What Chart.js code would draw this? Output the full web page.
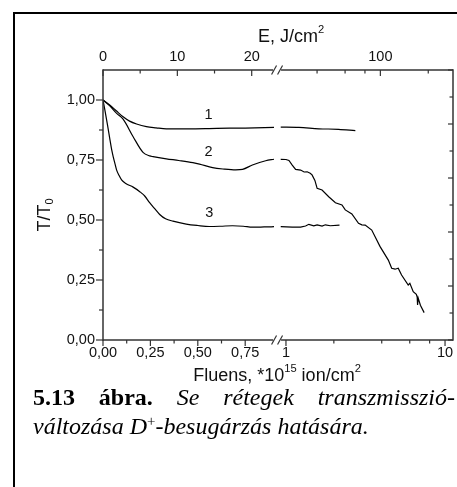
<!DOCTYPE html>
<html>
<head>
<meta charset="utf-8">
<script src="https://cdn.jsdelivr.net/npm/chart.js@4.4.1/dist/chart.umd.min.js"></script>
<style>
    html, body { margin: 0; padding: 0; background: #fff; }
    #wrap { position: relative; width: 457px; height: 487px; overflow: hidden; }
    #frame { position: absolute; left: 13px; top: 12px; width: 460px; height: 520px; border: 2px solid #000; box-sizing: border-box; }
    #chart { position: absolute; left: 0; top: 0; }
    #caption { position: absolute; left: 33px; top: 383px; width: 422px; font-family: "Liberation Serif", "Times New Roman", serif; font-size: 24px; line-height: 29px; color: #000; }
    #caption .l1 { text-align: justify; text-align-last: justify; white-space: nowrap; }
    #caption sup { font-size: 0.62em; line-height: 0; vertical-align: 0.55em; font-style: normal; }
</style>
</head>
<body>
<div id="wrap">
    <div id="frame"></div>
    <canvas id="chart" width="457" height="487"></canvas>
    <div id="caption">
        <div class="l1"><b>5.13 ábra.</b> <i>Se rétegek transzmisszió-</i></div>
        <div class="l2"><i>változása D<sup>+</sup>-besugárzás hatására.</i></div>
    </div>
</div>
<script>
// --- adatok: fluens (*10^15 ion/cm2) és T/T0 ---
const c1LeftF = [0, 0.037, 0.07, 0.106, 0.14, 0.177, 0.229, 0.28, 0.334, 0.45, 0.6, 0.75, 0.902];
const c1LeftT = [1.0, 0.978, 0.955, 0.930, 0.912, 0.900, 0.889, 0.884, 0.880, 0.880, 0.882, 0.883, 0.886];
const c1RightF = [0.927, 1.206, 1.61, 2.14, 2.73];
const c1RightT = [0.887, 0.886, 0.880, 0.878, 0.872];

const c2LeftF = [0, 0.037, 0.072, 0.106, 0.159, 0.211, 0.246, 0.264, 0.334, 0.40, 0.474, 0.509, 0.578, 0.64, 0.70, 0.736, 0.788, 0.858, 0.902];
const c2LeftT = [1.0, 0.975, 0.944, 0.920, 0.847, 0.782, 0.767, 0.764, 0.755, 0.748, 0.739, 0.733, 0.718, 0.712, 0.709, 0.711, 0.729, 0.747, 0.753];
const c2RightF = [0.927, 1.0, 1.044, 1.095, 1.15, 1.236, 1.30, 1.359, 1.42, 1.459, 1.52, 1.57, 1.686, 1.857, 2.046, 2.249, 2.36, 2.596, 2.858, 3.0, 3.147, 3.461, 3.906, 4.40, 4.62, 4.85, 5.08, 5.33, 5.87, 6.01, 6.31, 6.60, 6.68, 6.72, 6.78, 7.0, 7.39];
const c2RightT = [0.753, 0.752, 0.748, 0.729, 0.711, 0.708, 0.700, 0.701, 0.695, 0.688, 0.665, 0.632, 0.625, 0.597, 0.572, 0.563, 0.542, 0.525, 0.486, 0.480, 0.479, 0.458, 0.389, 0.333, 0.299, 0.295, 0.299, 0.271, 0.229, 0.236, 0.201, 0.190, 0.179, 0.146, 0.175, 0.145, 0.114];

const c3LeftF = [0, 0.010, 0.025, 0.037, 0.046, 0.055, 0.063, 0.072, 0.085, 0.098, 0.12, 0.159, 0.194, 0.22, 0.246, 0.275, 0.299, 0.33, 0.369, 0.439, 0.50, 0.561, 0.62, 0.683, 0.74, 0.788, 0.85, 0.902];
const c3LeftT = [1.0, 0.958, 0.89, 0.833, 0.792, 0.760, 0.735, 0.708, 0.685, 0.667, 0.652, 0.637, 0.618, 0.600, 0.572, 0.545, 0.523, 0.505, 0.495, 0.483, 0.477, 0.473, 0.474, 0.476, 0.474, 0.470, 0.471, 0.472];
const c3RightF = [0.927, 1.095, 1.236, 1.328, 1.393, 1.496, 1.57, 1.686, 1.77, 1.90, 2.17];
const c3RightT = [0.472, 0.470, 0.470, 0.475, 0.482, 0.476, 0.480, 0.475, 0.480, 0.476, 0.479];

// görbék számai (fluens, T/T0)
const curveLabels = ['1', '2', '3'];
const curveLabelF = [0.556, 0.556, 0.561];
const curveLabelT = [0.9375, 0.783, 0.529];

// tengelyek
const fluensTicks = [0, 0.25, 0.5, 0.75, 1, 10];
const fluensTickLabels = ['0,00', '0,25', '0,50', '0,75', '1', '10'];
const fluensMinor = [0.125, 0.375, 0.625, 2, 4, 6, 8];
const energyTicks = [0, 10, 20, 100];
const energyMinor = [5, 15, 40, 60, 80, 200];
const tTicks = [0, 0.25, 0.5, 0.75, 1.0];
const tTickLabels = ['0,00', '0,25', '0,50', '0,75', '1,00'];
const tMinor = [0.125, 0.375, 0.625, 0.875];
const rightTicks = [0, 1, 2, 3, 4, 5, 6, 7, 8, 9, 10];

// törött x tengely: lineáris 0..0.915, utána logaritmikus
const U_MAX = 1.846;
const BREAK_U = 0.918;
const LOG_U0 = 0.965;
const LOG_UK = 0.839;
const E_PER_F = 25.5;   // J/cm2 per 10^15 ion/cm2
function toU(f) { return f < 0.915 ? f : LOG_U0 + LOG_UK * Math.log10(f); }

const AXIS = '#333';
const FONT = '"Liberation Sans", Arial, sans-serif';
const font = s => `${s}px ${FONT}`;

function seg(fs, ts) { return fs.map((f, i) => ({ x: toU(f), y: ts[i] })); }
function line(fs, ts, smooth) {
    return {
        data: seg(fs, ts), borderColor: '#000', borderWidth: 1.2, pointRadius: 0,
        cubicInterpolationMode: smooth ? 'monotone' : 'default', tension: 0, fill: false
    };
}

function richWidth(ctx, parts, size) {
    let w = 0;
    parts.forEach(p => { ctx.font = font(p.sup || p.sub ? size * 0.62 : size); w += ctx.measureText(p.t).width; });
    return w;
}
function drawRich(ctx, parts, cx, cy, size) {
    let x = cx - richWidth(ctx, parts, size) / 2;
    ctx.textAlign = 'left';
    ctx.textBaseline = 'middle';
    parts.forEach(p => {
        const s = p.sup || p.sub ? size * 0.62 : size;
        ctx.font = font(s);
        const dy = p.sup ? -size * 0.4 : p.sub ? size * 0.3 : 0;
        ctx.fillText(p.t, x, cy + dy);
        x += ctx.measureText(p.t).width;
    });
}
function stroke(ctx, x1, y1, x2, y2) { ctx.beginPath(); ctx.moveTo(x1, y1); ctx.lineTo(x2, y2); ctx.stroke(); }

const axesPlugin = {
    id: 'axes',
    afterDatasetsDraw(chart) {
        const { ctx, chartArea: a, scales } = chart;
        const x = scales.x, y = scales.y, yr = scales.yr;
        const bc = x.getPixelForValue(BREAK_U);
        ctx.save();
        ctx.strokeStyle = AXIS;
        ctx.lineWidth = 1.5;

        // tengelyvonalak, a törésnél réssel
        stroke(ctx, a.left, a.top - 0.75, a.left, a.bottom + 0.75);
        stroke(ctx, a.right, a.top - 0.75, a.right, a.bottom + 0.75);
        [a.top, a.bottom].forEach(py => {
            stroke(ctx, a.left, py, bc - 4, py);
            stroke(ctx, bc + 4, py, a.right, py);
        });

        ctx.lineWidth = 1.2;
        // bal y tengely: kifelé
        tTicks.forEach(v => { const py = y.getPixelForValue(v); stroke(ctx, a.left - 7, py, a.left, py); });
        tMinor.forEach(v => { const py = y.getPixelForValue(v); stroke(ctx, a.left - 4, py, a.left, py); });
        // jobb y tengely: befelé
        rightTicks.forEach(v => {
            const py = yr.getPixelForValue(v);
            stroke(ctx, a.right - (v % 2 === 0 ? 5 : 3.5), py, a.right, py);
        });
        // alsó tengely: kifelé
        fluensTicks.forEach(v => { const px = x.getPixelForValue(toU(v)); stroke(ctx, px, a.bottom, px, a.bottom + 6); });
        fluensMinor.forEach(v => { const px = x.getPixelForValue(toU(v)); stroke(ctx, px, a.bottom, px, a.bottom + 3.5); });
        // felső tengely (E): befelé
        energyTicks.forEach(v => { const px = x.getPixelForValue(toU(v / E_PER_F)); stroke(ctx, px, a.top, px, a.top + 6); });
        energyMinor.forEach(v => { const px = x.getPixelForValue(toU(v / E_PER_F)); stroke(ctx, px, a.top, px, a.top + 3.5); });

        // törésjelek //
        ctx.lineWidth = 1.2;
        [a.top, a.bottom].forEach(py => {
            [-3, 3].forEach(dx => stroke(ctx, bc + dx - 2.5, py + 4.5, bc + dx + 2.5, py - 4.5));
        });

        // feliratok
        ctx.fillStyle = '#111';
        ctx.font = font(14.5);
        ctx.textAlign = 'right';
        ctx.textBaseline = 'middle';
        tTicks.forEach((v, i) => ctx.fillText(tTickLabels[i], a.left - 8, y.getPixelForValue(v)));
        ctx.textAlign = 'center';
        fluensTicks.forEach((v, i) => ctx.fillText(fluensTickLabels[i], x.getPixelForValue(toU(v)), a.bottom + 13));
        energyTicks.forEach(v => ctx.fillText(String(v), x.getPixelForValue(toU(v / E_PER_F)), a.top - 13));
        curveLabels.forEach((t, i) => ctx.fillText(t, x.getPixelForValue(curveLabelF[i]), y.getPixelForValue(curveLabelT[i])));

        drawRich(ctx, [{ t: 'E, J/cm' }, { t: '2', sup: true }], 291, 37, 18);
        drawRich(ctx, [{ t: 'Fluens, *10' }, { t: '15', sup: true }, { t: ' ion/cm' }, { t: '2', sup: true }], 277, 376, 18);
        ctx.save();
        ctx.translate(45, 215);
        ctx.rotate(-Math.PI / 2);
        drawRich(ctx, [{ t: 'T/T' }, { t: '0', sub: true }], 0, 0, 18);
        ctx.restore();
        ctx.restore();
    }
};

new Chart(document.getElementById('chart'), {
    type: 'line',
    data: {
        datasets: [
            line(c1LeftF, c1LeftT, true),
            line(c1RightF, c1RightT, true),
            line(c2LeftF, c2LeftT, true),
            line(c2RightF, c2RightT, false),
            line(c3LeftF, c3LeftT, true),
            line(c3RightF, c3RightT, false)
        ]
    },
    options: {
        responsive: false,
        animation: false,
        layout: { padding: { left: 103, top: 70, right: 4, bottom: 147 } },
        scales: {
            x: { type: 'linear', display: false, min: 0, max: U_MAX },
            y: { type: 'linear', display: false, min: 0, max: 1.125 },
            yr: { type: 'linear', display: false, position: 'right', min: 0, max: 10 }
        },
        plugins: { legend: { display: false }, tooltip: { enabled: false } }
    },
    plugins: [axesPlugin]
});
</script>
</body>
</html>
